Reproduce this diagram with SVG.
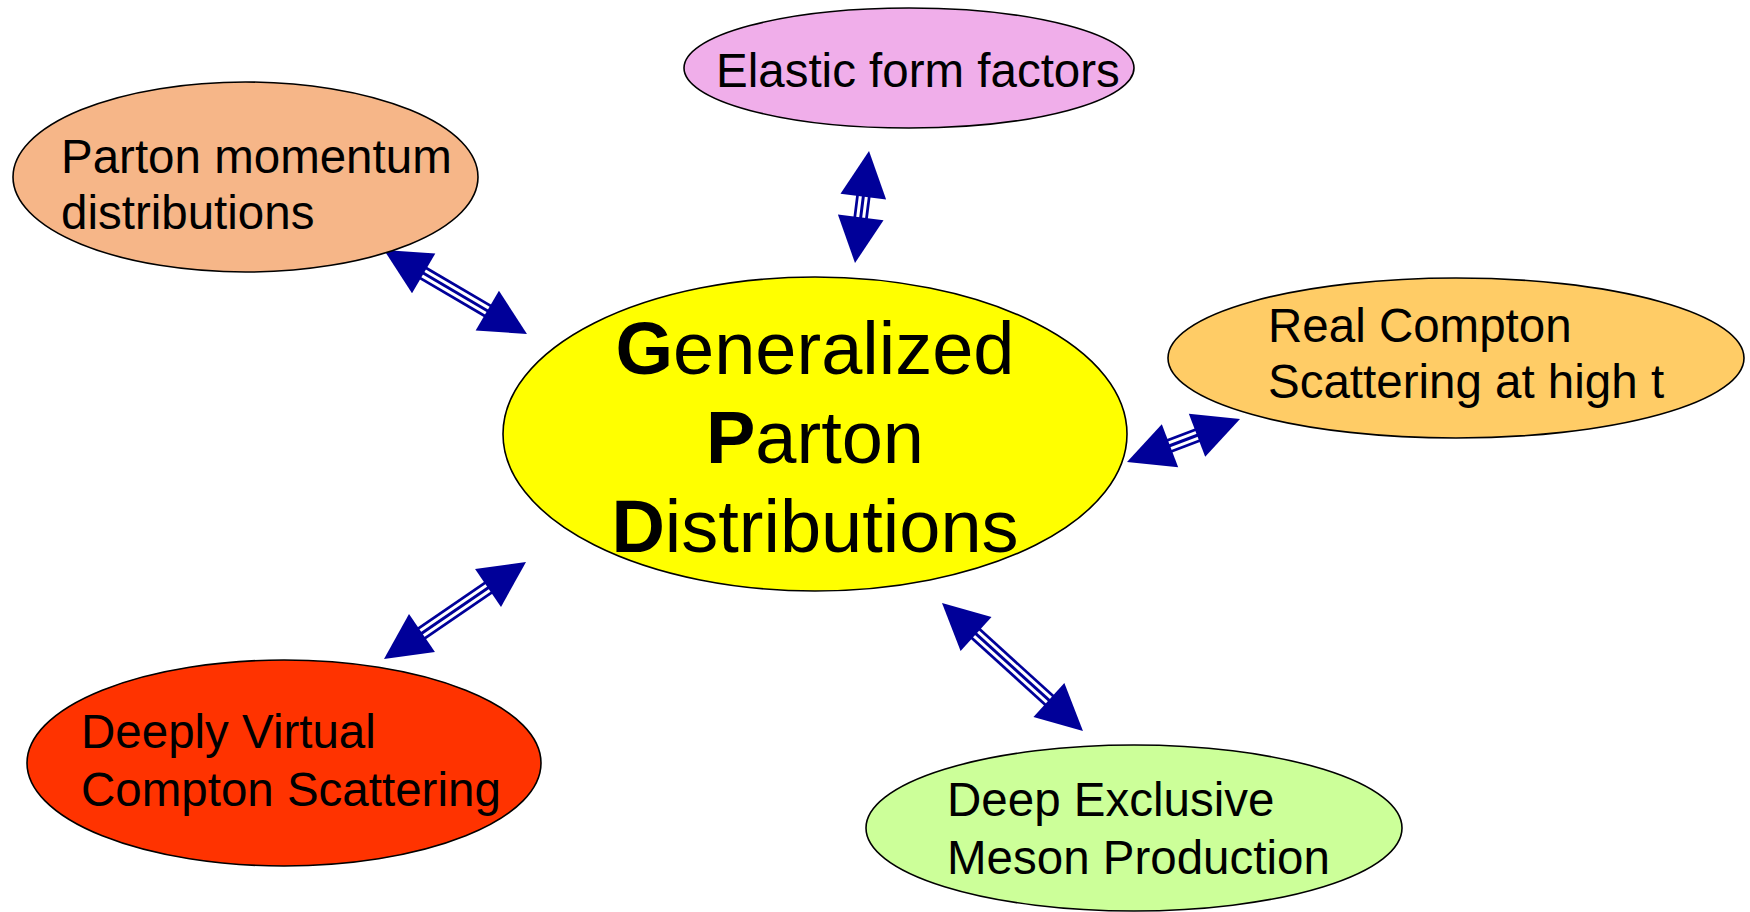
<svg xmlns="http://www.w3.org/2000/svg" width="1750" height="912" viewBox="0 0 1750 912">
<style>
.node ellipse{stroke:#000;stroke-width:1.6}
.lbl{font-family:"Liberation Sans",Arial,sans-serif;font-size:47.5px;fill:#000}
.big{font-family:"Liberation Sans",Arial,sans-serif;font-size:74px;fill:#000;text-anchor:middle}
.big tspan.b{font-weight:bold}
.head{fill:#000099}
.s1{stroke:#000099;stroke-width:14.5}
.s2{stroke:#fff;stroke-width:9}
.s3{stroke:#000099;stroke-width:3}
</style>
<rect width="1750" height="912" fill="#fff"/>
<g id="connectors">
  <g id="a-elastic" transform="translate(855,263) rotate(-82.87)">
    <line class="s1" x1="40" y1="0" x2="72.9" y2="0"/><line class="s2" x1="40" y1="0" x2="72.9" y2="0"/><line class="s3" x1="40" y1="0" x2="72.9" y2="0"/>
    <polygon class="head" points="0,0 46,-23 46,23"/><polygon class="head" points="112.9,0 66.9,-23 66.9,23"/>
  </g>
  <g id="a-parton" transform="translate(384,250) rotate(30.43)">
    <line class="s1" x1="40" y1="0" x2="125.8" y2="0"/><line class="s2" x1="40" y1="0" x2="125.8" y2="0"/><line class="s3" x1="40" y1="0" x2="125.8" y2="0"/>
    <polygon class="head" points="0,0 46,-23 46,23"/><polygon class="head" points="165.8,0 119.8,-23 119.8,23"/>
  </g>
  <g id="a-rcs" transform="translate(1127,462) rotate(-20.83)">
    <line class="s1" x1="40" y1="0" x2="80.9" y2="0"/><line class="s2" x1="40" y1="0" x2="80.9" y2="0"/><line class="s3" x1="40" y1="0" x2="80.9" y2="0"/>
    <polygon class="head" points="0,0 46,-23 46,23"/><polygon class="head" points="120.9,0 74.9,-23 74.9,23"/>
  </g>
  <g id="a-dvcs" transform="translate(384,659) rotate(-34.34)">
    <line class="s1" x1="40" y1="0" x2="132" y2="0"/><line class="s2" x1="40" y1="0" x2="132" y2="0"/><line class="s3" x1="40" y1="0" x2="132" y2="0"/>
    <polygon class="head" points="0,0 46,-23 46,23"/><polygon class="head" points="172,0 126,-23 126,23"/>
  </g>
  <g id="a-demp" transform="translate(942,603) rotate(42.24)">
    <line class="s1" x1="40" y1="0" x2="150.4" y2="0"/><line class="s2" x1="40" y1="0" x2="150.4" y2="0"/><line class="s3" x1="40" y1="0" x2="150.4" y2="0"/>
    <polygon class="head" points="0,0 46,-23 46,23"/><polygon class="head" points="190.4,0 144.4,-23 144.4,23"/>
  </g>
</g>
<g id="gpd" class="node">
  <ellipse cx="815" cy="434" rx="312" ry="157" fill="#FFFF00"/>
  <text class="big" x="815" y="374"><tspan class="b">G</tspan>eneralized</text>
  <text class="big" x="815" y="463"><tspan class="b">P</tspan>arton</text>
  <text class="big" x="815" y="552"><tspan class="b">D</tspan>istributions</text>
</g>
<g id="elastic" class="node">
  <ellipse cx="909" cy="68" rx="225" ry="60" fill="#F0AEEA"/>
  <text class="lbl" x="716" y="87">Elastic form factors</text>
</g>
<g id="parton" class="node">
  <ellipse cx="245.5" cy="177" rx="232.5" ry="95" fill="#F6B688"/>
  <text class="lbl" x="61" y="173">Parton momentum</text>
  <text class="lbl" x="61" y="229">distributions</text>
</g>
<g id="rcs" class="node">
  <ellipse cx="1456" cy="358" rx="288" ry="80" fill="#FFCC66"/>
  <text class="lbl" x="1268" y="342">Real Compton</text>
  <text class="lbl" x="1268" y="398">Scattering at high t</text>
</g>
<g id="dvcs" class="node">
  <ellipse cx="284" cy="763" rx="257" ry="103" fill="#FF3300"/>
  <text class="lbl" x="81" y="748">Deeply Virtual</text>
  <text class="lbl" x="81" y="806">Compton Scattering</text>
</g>
<g id="demp" class="node">
  <ellipse cx="1134" cy="828" rx="268" ry="83" fill="#CCFF99"/>
  <text class="lbl" x="947" y="816">Deep Exclusive</text>
  <text class="lbl" x="947" y="874">Meson Production</text>
</g>
</svg>
